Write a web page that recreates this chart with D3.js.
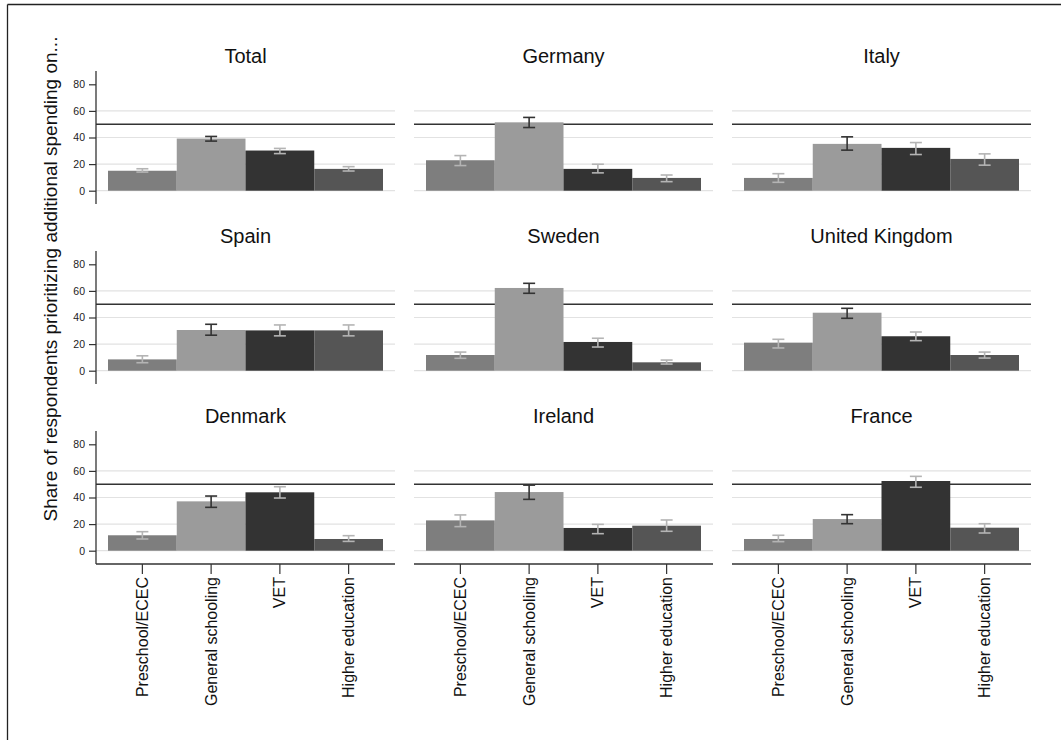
<!DOCTYPE html>
<html>
<head>
<meta charset="utf-8">
<script src="https://cdn.jsdelivr.net/npm/d3@7"></script>
<style>
  html, body { margin: 0; padding: 0; background: #fff; }
  svg { display: block; font-family: "Liberation Sans", Arial, Helvetica, sans-serif; }
</style>
</head>
<body>
<svg id="chart" width="1061" height="740"></svg>
<script>
// Education levels (bars within each panel)
const categories = ["Preschool/ECEC", "General schooling", "VET", "Higher education"];

// Panels, laid out row by row in a 3 x 3 grid
const panels = ["Total", "Germany", "Italy", "Spain", "Sweden", "United Kingdom", "Denmark", "Ireland", "France"];

// Share of respondents (%) per panel, in category order
const shares = [
  [15.0, 39.2, 30.2, 16.4],
  [22.9, 51.4, 16.4, 9.6],
  [9.6, 35.2, 32.2, 23.9],
  [8.5, 30.6, 30.3, 30.3],
  [11.8, 62.2, 21.6, 6.3],
  [21.1, 43.6, 25.9, 11.8],
  [11.6, 37.1, 43.9, 8.8],
  [22.8, 44.1, 17.1, 18.8],
  [8.8, 23.8, 52.4, 17.3]
];

// 95% confidence bounds
const ciLow = [
  [14.0, 37.3, 27.9, 14.8],
  [18.9, 47.5, 13.4, 6.8],
  [6.3, 30.5, 27.2, 19.2],
  [6.0, 26.7, 26.2, 26.2],
  [9.3, 58.2, 17.8, 5.0],
  [17.1, 39.4, 22.6, 9.5],
  [8.8, 32.6, 39.6, 7.0],
  [18.1, 38.6, 12.8, 14.6],
  [6.8, 20.3, 47.7, 13.3]
];
const ciHigh = [
  [16.5, 40.8, 31.8, 18.1],
  [26.4, 55.1, 19.9, 11.8],
  [12.8, 40.5, 36.2, 27.7],
  [11.2, 34.9, 34.4, 34.4],
  [14.0, 65.7, 24.4, 8.0],
  [23.6, 46.9, 29.1, 14.0],
  [14.3, 41.1, 48.1, 11.3],
  [26.9, 49.3, 19.8, 23.1],
  [11.6, 27.1, 55.9, 20.3]
];

const yTicks = [0, 20, 40, 60, 80];
const gridValues = [0, 20, 40, 60];
const referenceValue = 50;

const barColors = ["#7e7e7e", "#9b9b9b", "#333333", "#555555"];
const whiskerColors = ["#b4b4b4", "#333333", "#b4b4b4", "#b4b4b4"];

const svg = d3.select("#chart");

// Outer frame (left and top edges)
svg.append("line").attr("x1", 7.5).attr("x2", 7.5).attr("y1", 4.5).attr("y2", 740)
  .attr("stroke", "#222").attr("stroke-width", 1.3);
svg.append("line").attr("x1", 7.5).attr("x2", 1061).attr("y1", 4.5).attr("y2", 4.5)
  .attr("stroke", "#222").attr("stroke-width", 1.3);

const panelLeft0 = 96, panelStep = 318, panelW = 299;
const rowZero0 = 190.7, rowStep = 180, unit = 1.33;
const barInset = 12;

panels.forEach((name, i) => {
  const col = i % 3, row = Math.floor(i / 3);
  const left = panelLeft0 + col * panelStep;
  const zero = rowZero0 + row * rowStep;

  const y = d3.scaleLinear().domain([-10, 90]).range([zero + 10 * unit, zero - 90 * unit]);
  const x = d3.scaleBand().domain(categories)
    .range([left + barInset, left + panelW - barInset]).padding(0);

  const g = svg.append("g");

  // Panel title
  g.append("text")
    .attr("x", left + panelW / 2)
    .attr("y", zero - 127.4)
    .attr("text-anchor", "middle")
    .attr("font-size", 20)
    .attr("fill", "#111")
    .text(name);

  // Gridlines
  g.selectAll("line.grid").data(gridValues).enter().append("line")
    .attr("class", "grid")
    .attr("x1", left).attr("x2", left + panelW)
    .attr("y1", d => y(d)).attr("y2", d => y(d))
    .attr("stroke", "#e2e2e2").attr("stroke-width", 1.2);

  // Reference line at 50%
  g.append("line")
    .attr("x1", left).attr("x2", left + panelW)
    .attr("y1", y(referenceValue)).attr("y2", y(referenceValue))
    .attr("stroke", "#333").attr("stroke-width", 1.6);

  // Bars
  const rows = categories.map((c, k) => ({
    cat: c, k, v: shares[i][k], lo: ciLow[i][k], hi: ciHigh[i][k]
  }));

  g.selectAll("rect.bar").data(rows).enter().append("rect")
    .attr("class", "bar")
    .attr("x", d => x(d.cat))
    .attr("width", x.bandwidth())
    .attr("y", d => y(d.v))
    .attr("height", d => y(0) - y(d.v))
    .attr("fill", d => barColors[d.k]);

  // Confidence intervals
  const capHalf = 6;
  const eb = g.selectAll("g.ci").data(rows).enter().append("g")
    .attr("class", "ci")
    .attr("stroke", d => whiskerColors[d.k])
    .attr("stroke-width", 1.6);
  eb.append("line")
    .attr("x1", d => x(d.cat) + x.bandwidth() / 2).attr("x2", d => x(d.cat) + x.bandwidth() / 2)
    .attr("y1", d => y(d.lo)).attr("y2", d => y(d.hi));
  eb.append("line")
    .attr("x1", d => x(d.cat) + x.bandwidth() / 2 - capHalf).attr("x2", d => x(d.cat) + x.bandwidth() / 2 + capHalf)
    .attr("y1", d => y(d.lo)).attr("y2", d => y(d.lo));
  eb.append("line")
    .attr("x1", d => x(d.cat) + x.bandwidth() / 2 - capHalf).attr("x2", d => x(d.cat) + x.bandwidth() / 2 + capHalf)
    .attr("y1", d => y(d.hi)).attr("y2", d => y(d.hi));

  // Y axis in the left column
  if (col === 0) {
    const ya = g.append("g")
      .attr("transform", `translate(${left},0)`)
      .call(d3.axisLeft(y).tickValues(yTicks).tickSize(7).tickPadding(4));
    ya.select(".domain").attr("stroke", "#333").attr("stroke-width", 1.3)
      .attr("d", `M0,${y(90)}V${y(-10)}`);
    ya.selectAll(".tick line").attr("stroke", "#333").attr("stroke-width", 1.2);
    ya.selectAll(".tick text").attr("font-size", 10.5).attr("fill", "#222")
      .attr("font-family", "Liberation Sans, Arial, sans-serif");
  }

  // X axis in the bottom row
  if (row === 2) {
    const xa = g.append("g")
      .attr("transform", `translate(0,${y(-10)})`)
      .call(d3.axisBottom(x).tickSize(10).tickPadding(4));
    xa.select(".domain").attr("stroke", "#333").attr("stroke-width", 1.3)
      .attr("d", `M${left},0H${left + panelW}`);
    xa.selectAll(".tick line").attr("stroke", "#333").attr("stroke-width", 1.2);
    xa.selectAll(".tick text")
      .attr("font-size", 16).attr("fill", "#111")
      .attr("font-family", "Liberation Sans, Arial, sans-serif")
      .attr("text-anchor", "end")
      .attr("dy", "0.35em")
      .attr("transform", "translate(0,13) rotate(-90)")
      .attr("x", 0).attr("y", 0);
  }
});

// Shared y-axis title
svg.append("text")
  .attr("transform", "translate(57,279) rotate(-90)")
  .attr("text-anchor", "middle")
  .attr("font-size", 19)
  .attr("fill", "#111")
  .text("Share of respondents prioritizing additional spending on...");
</script>
</body>
</html>
